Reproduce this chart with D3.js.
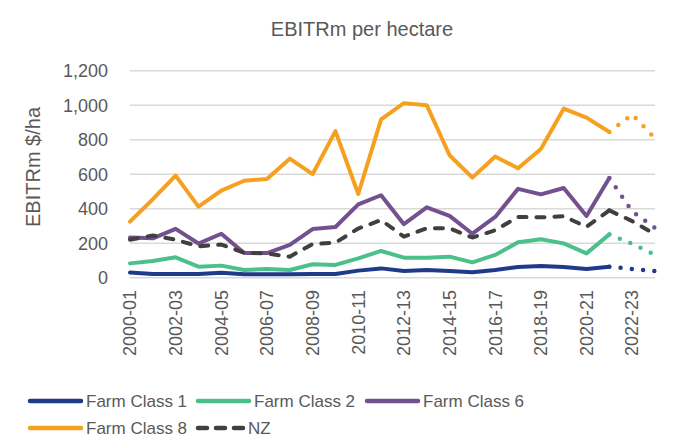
<!DOCTYPE html>
<html>
<head>
<meta charset="utf-8">
<script src="https://cdn.jsdelivr.net/npm/d3@7"></script>
<style>
  body { margin: 0; background: #fff; }
  text { font-family: "Liberation Sans", Arial, sans-serif; fill: #595959; }
</style>
</head>
<body>
<div id="chart"></div>
<script>
const years = ["2000-01","2001-02","2002-03","2003-04","2004-05","2005-06","2006-07","2007-08",
  "2008-09","2009-10","2010-11","2011-12","2012-13","2013-14","2014-15","2015-16","2016-17",
  "2017-18","2018-19","2019-20","2020-21","2021-22","2022-23","2023-24"];
const fc1 = [30, 21, 21, 21, 28, 20, 20, 20, 21, 21, 41, 54, 39, 45, 39, 31, 45, 62, 68, 62, 50, 64, 50, 38];
const fc2 = [83, 97, 118, 64, 70, 45, 50, 45, 78, 74, 112, 155, 116, 116, 122, 89, 132, 205, 223, 199, 141, 251, 197, 133];
const fc6 = [233, 228, 283, 198, 255, 143, 143, 190, 282, 294, 425, 478, 310, 408, 358, 255, 352, 515, 483, 520, 358, 578, 385, 288];
const fc8 = [325, 455, 592, 412, 505, 562, 572, 690, 600, 850, 485, 918, 1012, 1000, 710, 580, 703, 634, 746, 980, 928, 845, 947, 808];
const nz  = [220, 245, 220, 182, 192, 145, 140, 122, 195, 203, 285, 334, 238, 286, 286, 233, 275, 352, 350, 356, 295, 390, 328, 252];
const yTicks = [0, 200, 400, 600, 800, 1000, 1200];
const lastActual = 21; // 2021-22, later years are forecast (dotted)

const series = [
  {name: "Farm Class 1", values: fc1, color: "#1f3a8a"},
  {name: "Farm Class 2", values: fc2, color: "#4cc08a"},
  {name: "Farm Class 6", values: fc6, color: "#74508e"},
  {name: "Farm Class 8", values: fc8, color: "#f5a11f"},
  {name: "NZ", values: nz, color: "#404040", dashed: true}
];

const W = 679, H = 438;
const svg = d3.select("#chart").append("svg")
  .attr("width", W).attr("height", H);

const x = d3.scalePoint().domain(years).range([130, 655]);
const y = d3.scaleLinear().domain([0, 1200]).range([277.7, 70.7]);

// gridlines
svg.append("g").selectAll("line").data(yTicks).join("line")
  .attr("x1", 130).attr("x2", 655)
  .attr("y1", d => y(d)).attr("y2", d => y(d))
  .attr("stroke", "#d9d9d9").attr("stroke-width", 1.5);

// y tick labels
svg.append("g").selectAll("text").data(yTicks).join("text")
  .attr("x", 108).attr("y", d => y(d)).attr("dy", "0.35em")
  .attr("text-anchor", "end").style("font-size", "18px")
  .text(d3.format(","));

// x tick labels (every other year)
svg.append("g").selectAll("text").data(years.filter((d, i) => i % 2 === 0)).join("text")
  .attr("transform", d => `translate(${x(d)},290) rotate(-90)`)
  .attr("dy", "0.35em").attr("text-anchor", "end")
  .style("font-size", "18px")
  .text(d => d);

// title + axis title
svg.append("text").attr("x", 362).attr("y", 36).attr("text-anchor", "middle")
  .style("font-size", "20px").text("EBITRm per hectare");
svg.append("text").attr("transform", "translate(40,167) rotate(-90)")
  .attr("text-anchor", "middle").style("font-size", "20px").text("EBITRm $/ha");

const line = d3.line().x(d => x(d.year)).y(d => y(d.v));

series.forEach(s => {
  const pts = s.values.map((v, i) => ({year: years[i], v}));
  const actual = pts.slice(0, lastActual + 1);
  const fcst = pts.slice(lastActual);
  svg.append("path").datum(actual).attr("d", line)
    .attr("fill", "none").attr("stroke", s.color).attr("stroke-width", 4)
    .attr("stroke-linejoin", "round").attr("stroke-linecap", "round")
    .attr("stroke-dasharray", s.dashed ? "8 10" : null);
  svg.append("path").datum(fcst).attr("d", line)
    .attr("fill", "none").attr("stroke", s.color)
    .attr("stroke-width", s.dashed ? 4 : 4.5)
    .attr("stroke-linejoin", "round").attr("stroke-linecap", "round")
    .attr("stroke-dasharray", s.dashed ? "8 10" : "0 11.3")
    .attr("stroke-dashoffset", s.dashed ? 0 : -11.3);
});

// legend
const legendPos = [[30, 401], [198, 401], [367, 401], [30, 428], [198, 428]];
const lg = svg.append("g").selectAll("g").data(series).join("g")
  .attr("transform", (d, i) => `translate(${legendPos[i][0]},${legendPos[i][1]})`);
lg.append("line").attr("x1", 0).attr("x2", d => d.dashed ? 46 : 51)
  .attr("stroke", d => d.color).attr("stroke-width", 4.5)
  .attr("stroke-linecap", "round")
  .attr("stroke-dasharray", d => d.dashed ? "9 9" : null);
lg.append("text").attr("x", d => d.dashed ? 50 : 56).attr("dy", "0.35em")
  .style("font-size", "17px").text(d => d.name);
</script>
</body>
</html>
